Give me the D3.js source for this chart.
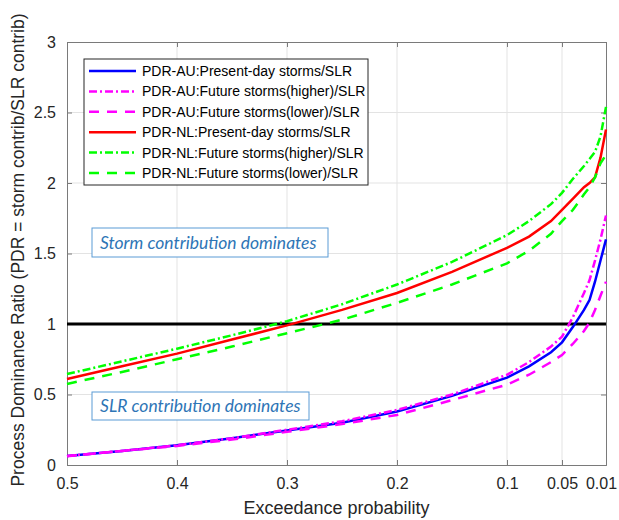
<!DOCTYPE html>
<html>
<head>
<meta charset="utf-8">
<script src="https://cdn.jsdelivr.net/npm/d3@7"></script>
<style>
  body { margin: 0; background: #fff; }
  svg { display: block; }
</style>
</head>
<body>
<svg id="chart"></svg>
<script>
// Exceedance probabilities (x) and PDR values
const probs = [0.5, 0.45, 0.4, 0.35, 0.3, 0.25, 0.2, 0.15, 0.1, 0.08, 0.06, 0.05, 0.04, 0.03, 0.025, 0.02, 0.015, 0.01];
const auPresent = [0.064, 0.10, 0.14, 0.19, 0.245, 0.30, 0.38, 0.49, 0.62, 0.70, 0.80, 0.87, 0.98, 1.10, 1.17, 1.30, 1.45, 1.60];
const auHigher  = [0.064, 0.10, 0.14, 0.19, 0.25, 0.31, 0.39, 0.50, 0.64, 0.73, 0.84, 0.91, 1.05, 1.22, 1.31, 1.45, 1.60, 1.77];
const auLower   = [0.062, 0.10, 0.135, 0.18, 0.235, 0.29, 0.355, 0.46, 0.57, 0.64, 0.73, 0.78, 0.86, 0.95, 1.01, 1.10, 1.20, 1.30];
const nlPresent = [0.61, 0.70, 0.79, 0.89, 0.99, 1.10, 1.22, 1.37, 1.54, 1.62, 1.73, 1.81, 1.89, 1.97, 2.00, 2.04, 2.18, 2.38];
const nlHigher  = [0.645, 0.735, 0.825, 0.92, 1.02, 1.14, 1.28, 1.44, 1.63, 1.73, 1.85, 1.93, 2.03, 2.12, 2.17, 2.22, 2.33, 2.54];
const nlLower   = [0.575, 0.66, 0.75, 0.84, 0.935, 1.03, 1.15, 1.28, 1.43, 1.52, 1.64, 1.73, 1.81, 1.92, 1.97, 2.04, 2.14, 2.20];

const seriesNames = [
  "PDR-AU:Present-day storms/SLR",
  "PDR-AU:Future storms(higher)/SLR",
  "PDR-AU:Future storms(lower)/SLR",
  "PDR-NL:Present-day storms/SLR",
  "PDR-NL:Future storms(higher)/SLR",
  "PDR-NL:Future storms(lower)/SLR"
];
const seriesValues = [auPresent, auHigher, auLower, nlPresent, nlHigher, nlLower];
const seriesColors = ["#0000ff", "#ff00ff", "#ff00ff", "#ff0000", "#00ff00", "#00ff00"];
const seriesDash = [null, "8,3,2,3", "10,8", null, "8,3,2,3", "10,8"];

const xTicks = [0.5, 0.4, 0.3, 0.2, 0.1, 0.05, 0.01];
const yTicks = [0, 0.5, 1, 1.5, 2, 2.5, 3];

// Set up SVG dimensions
const W = 619, H = 520;
const margin = { top: 42, right: 13, bottom: 55, left: 67 };
const width = W - margin.left - margin.right;
const height = H - margin.top - margin.bottom;

const svg = d3.select("#chart")
  .attr("width", W)
  .attr("height", H);

const g = svg.append("g")
  .attr("transform", "translate(" + margin.left + "," + margin.top + ")");

// Scales (x reversed: 0.5 on the left, 0.01 on the right)
const x = d3.scaleLinear().domain([0.5, 0.01]).range([0, width]);
const y = d3.scaleLinear().domain([0, 3]).range([height, 0]);

// Grid lines
g.append("g")
  .selectAll("line.vgrid")
  .data(xTicks.slice(1, -1))
  .enter().append("line")
  .attr("x1", d => x(d)).attr("x2", d => x(d))
  .attr("y1", 0).attr("y2", height)
  .attr("stroke", "#e3e3e3").attr("stroke-width", 1);

g.append("g")
  .selectAll("line.hgrid")
  .data(yTicks.slice(1, -1))
  .enter().append("line")
  .attr("x1", 0).attr("x2", width)
  .attr("y1", d => y(d)).attr("y2", d => y(d))
  .attr("stroke", "#e3e3e3").attr("stroke-width", 1);

// Axes (ticks pointing inward, MATLAB style)
const tickFont = "16px 'Liberation Sans', Arial, sans-serif";

const xAxis = g.append("g")
  .attr("transform", "translate(0," + height + ")")
  .call(d3.axisBottom(x).tickValues(xTicks).tickSize(-5).tickPadding(13).tickFormat(d => String(d)));

g.append("g")
  .call(d3.axisLeft(y).tickValues(yTicks).tickSize(-5).tickPadding(11).tickFormat(d => String(d)));

g.append("g")
  .call(d3.axisTop(x).tickValues(xTicks).tickSize(-5).tickFormat(""));

g.append("g")
  .attr("transform", "translate(" + width + ",0)")
  .call(d3.axisRight(y).tickValues(yTicks).tickSize(-5).tickFormat(""));

g.selectAll(".domain").attr("stroke", "#7a7a7a");
g.selectAll(".tick line").attr("stroke", "#7a7a7a");
g.selectAll(".tick text")
  .style("font", tickFont)
  .attr("fill", "#262626");

// keep the last x label inside the page
xAxis.selectAll(".tick text")
  .filter(d => d === 0.01)
  .attr("dx", -5);

// Reference line at PDR = 1
g.append("line")
  .attr("x1", 0).attr("x2", width)
  .attr("y1", y(1)).attr("y2", y(1))
  .attr("stroke", "#000").attr("stroke-width", 3);

// Curves
const line = d3.line()
  .x((d, i) => x(probs[i]))
  .y(d => y(d));

seriesValues.forEach(function(vals, i) {
  g.append("path")
    .datum(vals)
    .attr("fill", "none")
    .attr("stroke", seriesColors[i])
    .attr("stroke-width", 2.5)
    .attr("stroke-dasharray", seriesDash[i])
    .attr("d", line);
});

// Annotation boxes
function noteBox(xPos, yPos, w, h, label) {
  g.append("rect")
    .attr("x", xPos).attr("y", yPos)
    .attr("width", w).attr("height", h)
    .attr("fill", "#fff")
    .attr("stroke", "#5b9bd5").attr("stroke-width", 1);
  g.append("text")
    .attr("x", xPos + 8)
    .attr("y", yPos + h / 2 + 6)
    .style("font", "italic 17.5px Lato, 'Open Sans', sans-serif")
    .attr("fill", "#2e75b6")
    .text(label);
}
noteBox(92 - margin.left, 228 - margin.top, 236, 29, "Storm contribution dominates");
noteBox(92 - margin.left, 392 - margin.top, 217, 28, "SLR contribution dominates");

// Legend
const legend = g.append("g")
  .attr("transform", "translate(" + (84 - margin.left) + "," + (59 - margin.top) + ")");

legend.append("rect")
  .attr("width", 284).attr("height", 126)
  .attr("fill", "#fff")
  .attr("stroke", "#262626").attr("stroke-width", 1);

seriesNames.forEach(function(name, i) {
  const ly = 12 + i * 20.4;
  legend.append("line")
    .attr("x1", 5).attr("x2", 52)
    .attr("y1", ly).attr("y2", ly)
    .attr("stroke", seriesColors[i])
    .attr("stroke-width", 2.5)
    .attr("stroke-dasharray", seriesDash[i]);
  legend.append("text")
    .attr("x", 58)
    .attr("y", ly + 5)
    .style("font", "14px 'Liberation Sans', Arial, sans-serif")
    .attr("fill", "#000")
    .text(name);
});

// Axis labels
svg.append("text")
  .attr("x", margin.left + width / 2)
  .attr("y", 514)
  .attr("text-anchor", "middle")
  .style("font", "18px 'Liberation Sans', Arial, sans-serif")
  .attr("fill", "#262626")
  .text("Exceedance probability");

svg.append("text")
  .attr("transform", "rotate(-90)")
  .attr("x", -250)
  .attr("y", 24)
  .attr("text-anchor", "middle")
  .style("font", "17.5px 'Liberation Sans', Arial, sans-serif")
  .attr("fill", "#262626")
  .text("Process Dominance Ratio (PDR = storm contrib/SLR contrib)");
</script>
</body>
</html>
